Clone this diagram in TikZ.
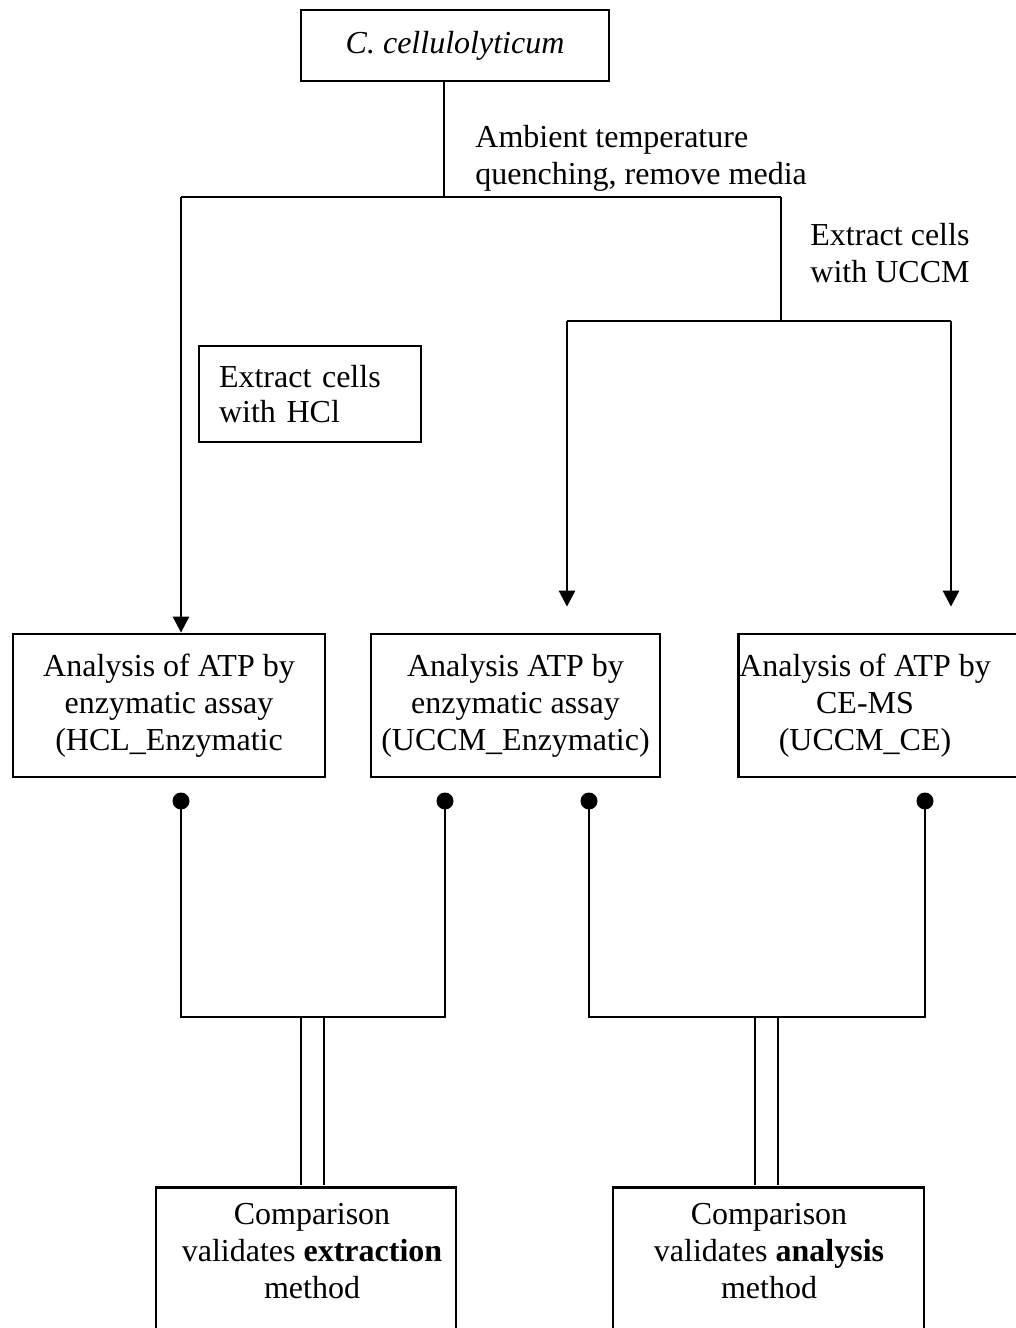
\documentclass[tikz,border=0pt]{standalone}
\usepackage{fontspec}
\setmainfont{Liberation Serif}
\usetikzlibrary{arrows.meta,calc}
\newcommand\flowfont{\fontsize{16}{18.5}\selectfont}

\begin{document}
\begin{tikzpicture}[x=0.5pt,y=-0.5pt,
  box/.style={draw, line width=1.4pt, inner sep=0pt, align=center, font=\flowfont},
  frame/.style={draw, line width=1.4pt, inner sep=0pt},
  plain/.style={inner sep=0pt, align=center, font=\flowfont},
  conn/.style={line width=1.35pt},
  arrow/.style={conn, -{Triangle[width=8pt,length=8pt]}},
  dot/.style={circle, fill=black, inner sep=0pt, minimum size=8.5pt},
  rail/.style={double, line width=1.15pt, double distance=10.35pt,
               shorten <=0.7pt, shorten >=0.7pt}]

\useasboundingbox (0,0) rectangle (1016,1328);
\clip (0,0) rectangle (1016,1328);

% organism and sample preparation
\node[box, minimum width=154pt, minimum height=35.5pt] (src) at (455,45.5)
  {\textit{C. cellulolyticum}};
\node[plain, align=left, anchor=west] (quench) at (475,158)
  {Ambient temperature\\quenching, remove media};
\node[plain, align=left, anchor=west] (ucm) at (810,253.5)
  {Extract cells\\with UCCM};
\node[box, align=left, text width=91pt, inner xsep=10pt, minimum height=48pt,
      font=\fontsize{16}{17.5}\selectfont] (hcl)
  at (310,394) {Extract cells\\with HCl};

% analysis boxes
\node[box, minimum width=156pt, minimum height=71.5pt] (enzH) at (169,705.5)
  {Analysis of ATP by\\enzymatic assay\\(HCL\_Enzymatic};
\node[box, minimum width=144.5pt, minimum height=71.5pt] (enzU) at (515.5,705.5)
  {Analysis ATP by\\enzymatic assay\\(UCCM\_Enzymatic)};
\node[frame, anchor=west, minimum width=150pt, minimum height=71.5pt] (ce) at (737,705.5) {};
\node[plain] (cetxt) at (865,705.5) {Analysis of ATP by\\CE-MS\\(UCCM\_CE)};

% comparison boxes
\node[frame, anchor=north, minimum width=150pt, minimum height=100pt] (cmpE) at (306,1186) {};
\node[plain] (cmpEtxt) at (312,1251) {Comparison\\validates \textbf{extraction}\\method};
\node[frame, anchor=north, minimum width=155.5pt, minimum height=100pt] (cmpA) at (768.5,1186) {};
\node[plain] (cmpAtxt) at (769,1251) {Comparison\\validates \textbf{analysis}\\method};

% branching from the culture
\coordinate (j0) at (444,197);
\coordinate (jl) at (181,197);
\coordinate (jr) at (781,197);
\coordinate (kl) at (567,321);
\coordinate (kr) at (951,321);
\draw[conn] (src.south -| j0) -- (j0);
\draw[conn] (jl) -- (jr);
\draw[arrow] (jl) -- (jl |- enzH.north);
\draw[conn] (jr) -- (jr |- kl);
\draw[conn] (kl) -- (kr);
\draw[arrow, shorten >=13pt] (kl) -- (kl |- enzU.north);
\draw[arrow, shorten >=13pt] (kr) -- (kr |- ce.north);

% result pairs joined for comparison
\node[dot] (d1) at (181,801) {};
\node[dot] (d2) at (445,801) {};
\node[dot] (d3) at (589,801) {};
\node[dot] (d4) at (925,801) {};
\coordinate (mE) at (312.5,1017);
\coordinate (mA) at (766.5,1017);
\draw[rail] (mE) -- (mE |- cmpE.north);
\draw[rail] (mA) -- (mA |- cmpA.north);
\draw[conn] (d1.center) |- (mE) -| (d2.center);
\draw[conn] (d3.center) |- (mA) -| (d4.center);
\end{tikzpicture}
\end{document}
